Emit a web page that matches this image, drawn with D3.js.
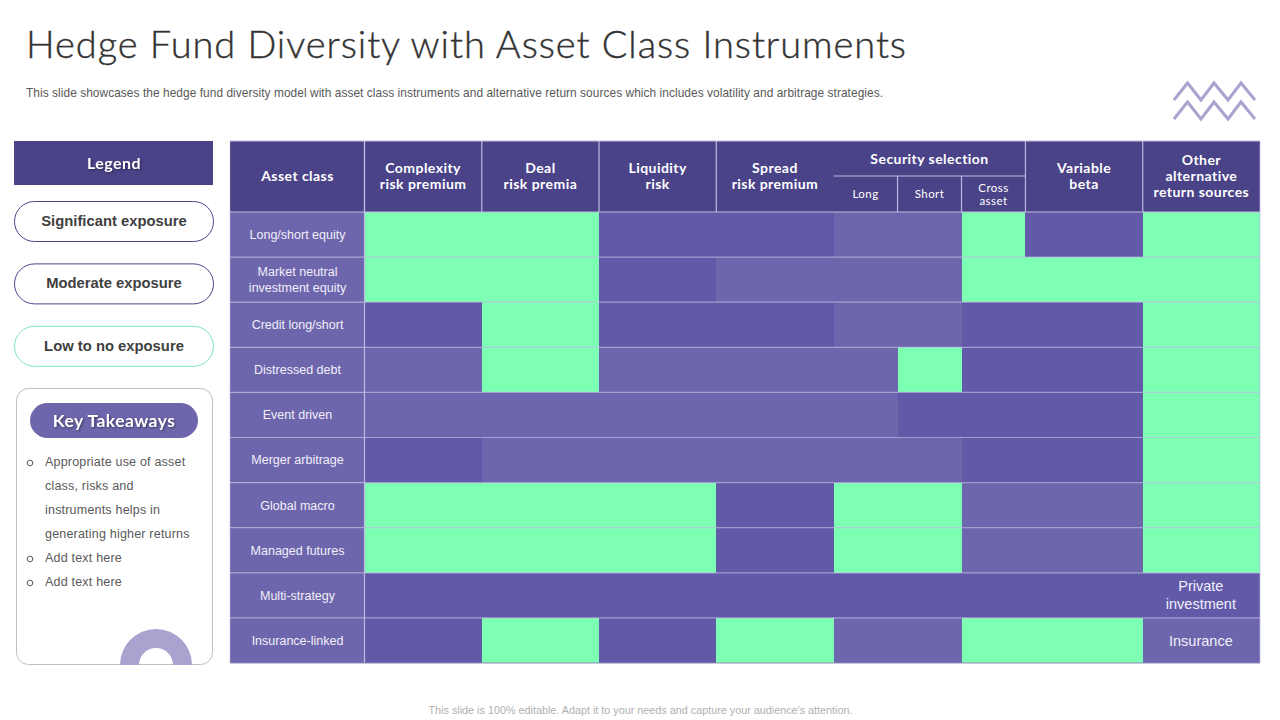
<!DOCTYPE html>
<html>
<head>
<meta charset="utf-8">
<title>Hedge Fund Diversity</title>
<script src="https://cdn.jsdelivr.net/npm/d3@7"></script>
<style>
  html, body { margin: 0; padding: 0; background: #fff; }
  svg { display: block; }
  text { font-family: "Liberation Sans", Arial, sans-serif; }
  text.gothic, .gothic text { font-family: Lato, "Open Sans", sans-serif; font-weight: 700; letter-spacing: 0.45px; }
  .shadow { filter: drop-shadow(1px 1px 1px rgba(0, 0, 0, 0.45)); }
</style>
</head>
<body>
<div id="root"></div>
<script>
// S = significant, M = moderate, L = low to no exposure
const assetClasses = [
  "Long/short equity", "Market neutral\ninvestment equity", "Credit long/short",
  "Distressed debt", "Event driven", "Merger arbitrage", "Global macro",
  "Managed futures", "Multi-strategy", "Insurance-linked"
];
const factors = [
  "Complexity\nrisk premium", "Deal\nrisk premia", "Liquidity\nrisk", "Spread\nrisk premium",
  "Long", "Short", "Cross\nasset", "Variable\nbeta", "Other\nalternative\nreturn sources"
];
const exposure = [
  ["L", "L", "S", "S", "M", "M", "L", "S", "L"],
  ["L", "L", "S", "M", "M", "M", "L", "L", "L"],
  ["S", "L", "S", "S", "M", "M", "S", "S", "L"],
  ["M", "L", "M", "M", "M", "L", "S", "S", "L"],
  ["M", "M", "M", "M", "M", "S", "S", "S", "L"],
  ["S", "M", "M", "M", "M", "M", "S", "S", "L"],
  ["L", "L", "L", "S", "L", "L", "M", "M", "L"],
  ["L", "L", "L", "S", "L", "L", "M", "M", "L"],
  ["S", "S", "S", "S", "S", "S", "S", "S", "S"],
  ["S", "L", "S", "L", "M", "M", "L", "L", "M"]
];
const cellNotes = [
  { row: 8, col: 8, text: "Private\ninvestment" },
  { row: 9, col: 8, text: "Insurance" }
];
const legendItems = ["Significant exposure", "Moderate exposure", "Low to no exposure"];
const takeaways = [
  ["Appropriate  use of asset", "class, risks and", "instruments helps in", "generating  higher returns"],
  ["Add text here"],
  ["Add text here"]
];

const HEADER = "#4b4388";
const colors = { S: "#625aa8", M: "#6e66ac", L: "#7dffb4" };
const legendStroke = ["#4b4388", "#4b4388", "#7de6bd"];

const svg = d3.select("#root").append("svg").attr("width", 1280).attr("height", 720);

// column widths in grid units: the three security selection columns are narrower
const colUnits = [11, 11, 11, 11, 6, 6, 6, 11, 11];
const colEdges = [0, ...d3.cumsum(colUnits)];
const x = d3.scaleLinear().domain([0, d3.sum(colUnits)]).range([364.5, 1260]);
const y = d3.scaleBand().domain(d3.range(assetClasses.length)).range([212, 663]);
const colX = i => x(colEdges[i]);
const colW = i => x(colEdges[i + 1]) - x(colEdges[i]);
const colMid = i => colX(i) + colW(i) / 2;

function multiline(sel, str, cx, cy, lineHeight) {
  const lines = str.split("\n");
  const t = sel.append("text").attr("text-anchor", "middle");
  lines.forEach((line, i) => {
    t.append("tspan")
      .attr("x", cx)
      .attr("y", cy + (i - (lines.length - 1) / 2) * lineHeight)
      .attr("dy", "0.35em")
      .text(line);
  });
  return t;
}

// title block
svg.append("text").attr("x", 26).attr("y", 58)
  .attr("font-size", 38).attr("fill", "#333")
  .attr("stroke", "#333").attr("stroke-width", 0.4)
  .attr("textLength", 880).attr("lengthAdjust", "spacing")
  .style("font-family", "Lato, sans-serif").style("font-weight", 300)
  .text("Hedge Fund Diversity with Asset Class Instruments");
svg.append("text").attr("x", 26).attr("y", 96.5)
  .attr("font-size", 11.9).attr("fill", "#595959")
  .attr("textLength", 857).attr("lengthAdjust", "spacing")
  .text("This slide showcases the hedge fund diversity model with asset class instruments and alternative return sources which includes volatility and arbitrage strategies.");
svg.append("text").attr("x", 640.5).attr("y", 714)
  .attr("text-anchor", "middle").attr("font-size", 10.8).attr("fill", "#b0b0b0")
  .text("This slide is 100% editable.  Adapt it to your needs and capture your audience's attention.");

// zigzag ornament
const zigzag = d3.line();
[0, 19].forEach(dy => {
  svg.append("path")
    .attr("d", zigzag([[1174, 100], [1187.5, 83], [1201, 100], [1214, 83], [1228, 100], [1241, 83], [1255, 100]].map(p => [p[0], p[1] + dy])))
    .attr("fill", "none").attr("stroke", "#a8a3cf").attr("stroke-width", 3);
});

// legend
svg.append("rect").attr("x", 14).attr("y", 141).attr("width", 199).attr("height", 44).attr("fill", HEADER);
svg.append("text").attr("class", "gothic shadow").attr("x", 114).attr("y", 169)
  .attr("text-anchor", "middle").attr("font-size", 16).attr("fill", "#fff").text("Legend");
const legend = svg.selectAll("g.legend").data(legendItems).join("g").attr("class", "legend");
legend.append("rect")
  .attr("x", 14.5).attr("y", (d, i) => 201.5 + i * 62.4)
  .attr("width", 199).attr("height", 40).attr("rx", 20)
  .attr("fill", "#fff").attr("stroke", (d, i) => legendStroke[i]);
legend.append("text")
  .attr("x", 114).attr("y", (d, i) => 226 + i * 62.4)
  .attr("text-anchor", "middle").attr("font-size", 14.8).attr("font-weight", 700)
  .attr("fill", "#404040").text(d => d);

// key takeaways box
svg.append("rect").attr("x", 16.5).attr("y", 388.5).attr("width", 196).attr("height", 276)
  .attr("rx", 12).attr("fill", "#fff").attr("stroke", "#bfbfbf");
svg.append("rect").attr("x", 30).attr("y", 403).attr("width", 168).attr("height", 35)
  .attr("rx", 17.5).attr("fill", colors.M);
svg.append("text").attr("class", "gothic shadow").attr("x", 114).attr("y", 427)
  .attr("text-anchor", "middle").attr("font-size", 17.5).attr("fill", "#fff").text("Key Takeaways");

let lineNo = 0;
takeaways.forEach(item => {
  svg.append("circle").attr("cx", 30).attr("cy", 463 + lineNo * 24).attr("r", 2.8)
    .attr("fill", "none").attr("stroke", "#595959");
  item.forEach(line => {
    svg.append("text").attr("x", 45).attr("y", 466 + lineNo * 24)
      .attr("font-size", 12.5).attr("letter-spacing", 0.2).attr("fill", "#595959").text(line);
    lineNo += 1;
  });
});

const donut = d3.arc().innerRadius(17).outerRadius(36).startAngle(-Math.PI / 2).endAngle(Math.PI / 2);
svg.append("path").attr("transform", "translate(156,665)").attr("d", donut()).attr("fill", "#a8a3cf");

// table header
const table = svg.append("g");
const headTop = 141, headBottom = 212, subTop = 176;
table.append("rect").attr("x", 230).attr("y", headTop).attr("width", 1030).attr("height", headBottom - headTop).attr("fill", HEADER);

const head = table.append("g").attr("class", "gothic").attr("fill", "#fff").attr("font-size", 14);
multiline(head, "Asset class", 297.5, 176, 16);
factors.forEach((f, i) => {
  if (i >= 4 && i <= 6) return;
  multiline(head, f, colMid(i), 176, 16);
});
multiline(head, "Security selection", (colX(4) + colX(7)) / 2, 159, 16);
factors.slice(4, 7).forEach((f, i) => {
  multiline(head, f, colMid(i + 4), 194, 13).attr("font-size", 11.5).style("font-weight", 400);
});

// exposure cells, edges rounded so neighbours of one level merge without a seam
exposure.forEach((r, ri) => {
  table.append("g").attr("shape-rendering", "crispEdges").selectAll("rect").data(r).join("rect")
    .attr("x", (d, ci) => Math.round(colX(ci)))
    .attr("y", y(ri))
    .attr("width", (d, ci) => Math.round(colX(ci + 1) || 1260) - Math.round(colX(ci)))
    .attr("height", y.bandwidth())
    .attr("fill", d => colors[d]);
});

// row labels
table.selectAll("rect.label").data(assetClasses).join("rect").attr("class", "label")
  .attr("x", 230).attr("y", (d, i) => y(i)).attr("width", 134.5).attr("height", y.bandwidth())
  .attr("fill", colors.M);
const labels = table.append("g").attr("fill", "#f1effa").attr("font-size", 12.5);
assetClasses.forEach((c, i) => multiline(labels, c, 297.5, y(i) + y.bandwidth() / 2, 16));
const notes = table.append("g").attr("fill", "#f1effa").attr("font-size", 14.5);
cellNotes.forEach(n => multiline(notes, n.text, colMid(n.col) - 0.5, y(n.row) + y.bandwidth() / 2, 18));

// grid lines
const grid = table.append("g").attr("fill", "none").attr("stroke", "#bdb9e2").attr("stroke-width", 1.2);
const seg = (x1, y1, x2, y2) => grid.append("line").attr("x1", x1).attr("y1", y1).attr("x2", x2).attr("y2", y2);
seg(230, headTop, 1260, headTop);
seg(230, headBottom, 1260, headBottom);
seg(364.5, headTop, 364.5, 663);
[0, 1, 2, 3, 7, 8].forEach(i => seg(colX(i), headTop, colX(i), headBottom));
seg(colX(4), subTop, colX(7), subTop);
seg(colX(5), subTop, colX(5), headBottom);
seg(colX(6), subTop, colX(6), headBottom);
seg(230, headTop, 230, 663).attr("stroke-opacity", 0.4);
seg(1260, headTop, 1260, 663).attr("stroke-opacity", 0.6);
d3.range(1, assetClasses.length).forEach(i => {
  seg(230, y(i), 1260, y(i)).attr("stroke-opacity", 0.7);
});
seg(230, 663, 1260, 663).attr("stroke", "#8f89ba");
</script>
</body>
</html>
